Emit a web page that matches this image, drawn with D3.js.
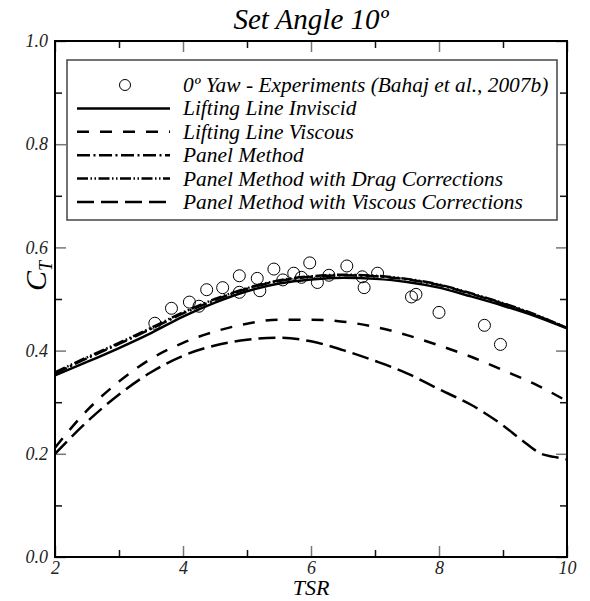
<html lang="en">
<head>
  <meta charset="UTF-8">
  <title>Set Angle 10</title>
  <script src="https://d3js.org/d3.v7.min.js"></script>
</head>
<body style="margin:0; background:white">
  <svg id="chart" width="590" height="601"></svg>
  <script>
    // curve data
    const tsr = [2, 2.5, 3, 3.5, 4, 4.5, 5, 5.5, 6, 6.5, 7, 7.5, 8, 8.5, 9, 9.5, 10];
    const llInviscid = [0.352, 0.378, 0.405, 0.434, 0.466, 0.493, 0.515, 0.530, 0.538, 0.541, 0.539, 0.533, 0.522, 0.505, 0.487, 0.467, 0.443];
    const llViscous = [0.212, 0.284, 0.340, 0.384, 0.415, 0.437, 0.452, 0.460, 0.460, 0.456, 0.446, 0.430, 0.410, 0.388, 0.362, 0.335, 0.302];
    const panel = [0.356, 0.385, 0.413, 0.442, 0.472, 0.498, 0.520, 0.535, 0.543, 0.546, 0.544, 0.538, 0.527, 0.510, 0.491, 0.469, 0.444];
    const panelDrag = [0.358, 0.387, 0.415, 0.444, 0.474, 0.500, 0.521, 0.536, 0.544, 0.547, 0.545, 0.539, 0.528, 0.511, 0.492, 0.470, 0.444];
    const tsrVisc = [2, 2.5, 3, 3.5, 4, 4.5, 5, 5.5, 6, 6.5, 7, 7.5, 8, 8.5, 9, 9.3, 9.6, 9.8, 10];
    const panelViscous = [0.200, 0.262, 0.315, 0.358, 0.390, 0.410, 0.421, 0.425, 0.418, 0.401, 0.380, 0.356, 0.325, 0.295, 0.255, 0.226, 0.200, 0.194, 0.189];

    // experiments (Bahaj et al., 2007b)
    const expTsr = [3.56, 3.82, 4.10, 4.25, 4.37, 4.62, 4.88, 4.88, 5.16, 5.20, 5.42, 5.56, 5.73, 5.85, 5.98, 6.10, 6.28, 6.56, 6.80, 6.83, 7.04, 7.57, 7.64, 8.00, 8.71, 8.96];
    const expCt = [0.453, 0.482, 0.494, 0.486, 0.518, 0.522, 0.545, 0.513, 0.540, 0.516, 0.558, 0.537, 0.550, 0.542, 0.570, 0.532, 0.546, 0.564, 0.543, 0.522, 0.550, 0.504, 0.509, 0.474, 0.449, 0.412];

    const legendLabels = ["0º Yaw - Experiments (Bahaj et al., 2007b)", "Lifting Line Inviscid", "Lifting Line Viscous",
      "Panel Method", "Panel Method with Drag Corrections", "Panel Method with Viscous Corrections"];

    const xMajor = [2, 4, 6, 8, 10];
    const xMinor = [3, 5, 7, 9];
    const yMajor = [0, 0.2, 0.4, 0.6, 0.8, 1.0];
    const yMinor = [0.1, 0.3, 0.5, 0.7, 0.9];

    const svg = d3.select("#chart");
    const width = +svg.attr("width");
    const height = +svg.attr("height");
    const margin = { top: 41, right: 23, bottom: 44, left: 55 };
    const plotW = width - margin.left - margin.right;
    const plotH = height - margin.top - margin.bottom;

    const x = d3.scaleLinear().domain([2, 10]).range([0, plotW]);
    const y = d3.scaleLinear().domain([0, 1]).range([plotH, 0]);

    const g = svg.append("g").attr("transform", "translate(" + margin.left + "," + margin.top + ")");

    // title
    svg.append("text")
      .attr("x", margin.left + plotW / 2).attr("y", 29)
      .attr("text-anchor", "middle")
      .attr("font-size", 29)
      .text("Set Angle 10º");

    // ticks, inward on all four sides
    function tickAxis(axis, vals, len, color, sel, labels, pad) {
      const a = axis.tickValues(vals).tickSize(-len).tickPadding(pad || 7);
      if (!labels) a.tickFormat("");
      else a.tickFormat(labels);
      sel.call(a);
      sel.attr("font-family", null);
      sel.select(".domain").remove();
      sel.selectAll(".tick line").attr("stroke", color).attr("stroke-width", 1.5);
      sel.selectAll(".tick text").attr("font-size", 18).attr("fill", "#222");
    }
    const fmtY = d3.format(".1f");
    tickAxis(d3.axisBottom(x), xMajor, 11, "#777", g.append("g").attr("transform", "translate(0," + plotH + ")"), d3.format("d"), 4);
    tickAxis(d3.axisBottom(x), xMinor, 7, "#111", g.append("g").attr("transform", "translate(0," + plotH + ")"));
    tickAxis(d3.axisTop(x), xMajor, 11, "#777", g.append("g"));
    tickAxis(d3.axisTop(x), xMinor, 7, "#111", g.append("g"));
    tickAxis(d3.axisLeft(y), yMajor, 11, "#777", g.append("g"), fmtY);
    tickAxis(d3.axisLeft(y), yMinor, 7, "#111", g.append("g"));
    tickAxis(d3.axisRight(y), yMajor, 11, "#777", g.append("g").attr("transform", "translate(" + plotW + ",0)"));
    tickAxis(d3.axisRight(y), yMinor, 7, "#111", g.append("g").attr("transform", "translate(" + plotW + ",0)"));

    // curves
    const series = [
      { xs: tsr, ys: llInviscid, dash: null },
      { xs: tsr, ys: llViscous, dash: "12,11" },
      { xs: tsr, ys: panel, dash: "13,3.5,2,3.5" },
      { xs: tsr, ys: panelDrag, dash: "11,2.5,1.5,2.5,1.5,2.5" },
      { xs: tsrVisc, ys: panelViscous, dash: "17,7" }
    ];
    const line = d3.line().x(d => x(d[0])).y(d => y(d[1])).curve(d3.curveMonotoneX);

    g.append("clipPath").attr("id", "plotclip")
      .append("rect").attr("width", plotW).attr("height", plotH);
    const plot = g.append("g").attr("clip-path", "url(#plotclip)");

    series.forEach(s => {
      plot.append("path")
        .datum(d3.zip(s.xs, s.ys))
        .attr("d", line)
        .attr("fill", "none")
        .attr("stroke", "black")
        .attr("stroke-width", 2.5)
        .attr("stroke-dasharray", s.dash);
    });

    plot.selectAll("circle.exp").data(d3.zip(expTsr, expCt))
      .join("circle")
      .attr("class", "exp")
      .attr("cx", d => x(d[0]))
      .attr("cy", d => y(d[1]))
      .attr("r", 6)
      .attr("fill", "none")
      .attr("stroke", "black")
      .attr("stroke-width", 1);

    // frame
    g.append("rect").attr("width", plotW).attr("height", plotH)
      .attr("fill", "none").attr("stroke", "black").attr("stroke-width", 2);

    // legend
    const legend = g.append("g").attr("transform", "translate(12,19)");
    legend.append("rect").attr("width", 490).attr("height", 160)
      .attr("fill", "white").attr("stroke", "#444").attr("stroke-width", 1.5);
    const rowY = i => 25 + i * 23.4;
    legend.append("circle").attr("cx", 58).attr("cy", rowY(0)).attr("r", 5.5)
      .attr("fill", "none").attr("stroke", "black").attr("stroke-width", 1);
    series.forEach((s, i) => {
      legend.append("line")
        .attr("x1", 10).attr("x2", 103)
        .attr("y1", rowY(i + 1)).attr("y2", rowY(i + 1))
        .attr("stroke", "black").attr("stroke-width", 2.5)
        .attr("stroke-dasharray", s.dash);
    });
    legend.selectAll("text.lab").data(legendLabels)
      .join("text")
      .attr("class", "lab")
      .attr("x", 116)
      .attr("y", (d, i) => rowY(i) + 7)
      .attr("font-size", 21.4)
      .text(d => d);

    // axis titles
    svg.append("text")
      .attr("x", margin.left + plotW / 2).attr("y", 595)
      .attr("text-anchor", "middle")
      .attr("font-size", 22)
      .text("TSR");

    const yl = svg.append("text")
      .attr("transform", "translate(46,276) rotate(-90)")
      .attr("text-anchor", "middle")
      .attr("font-size", 30);
    yl.append("tspan").text("C");
    yl.append("tspan").attr("font-size", 18).attr("dy", 6).text("T");

    // serif italic everywhere
    svg.selectAll("text")
      .style("font-family", "'Liberation Serif'")
      .style("font-style", "italic");
  </script>
</body>
</html>
